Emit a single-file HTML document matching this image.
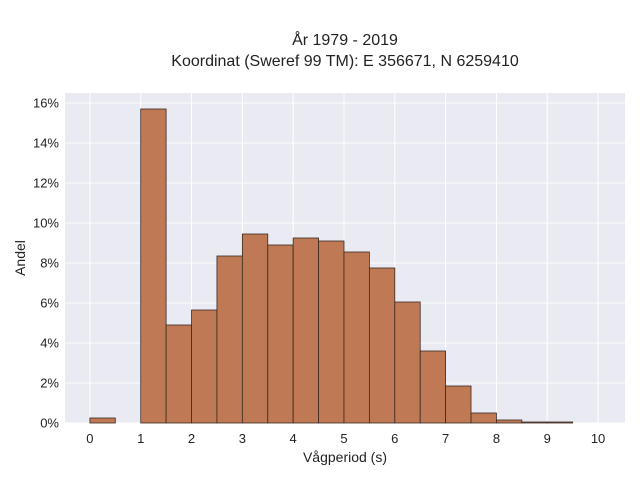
<!DOCTYPE html>
<html><head><meta charset="utf-8">
<style>
body{margin:0;background:#fff;}
svg text{font-family:"Liberation Sans",sans-serif;fill:#222;}
</style></head>
<body>
<svg id="chart" width="640" height="480" xmlns="http://www.w3.org/2000/svg">
<text x="345" y="45" text-anchor="middle" font-size="16">År 1979 - 2019</text>
<text x="345" y="66" text-anchor="middle" font-size="16">Koordinat (Sweref 99 TM): E 356671, N 6259410</text>
<rect x="65" y="93" width="560" height="330" fill="#eaeaf2"/>
<g id="grid"></g>
<g id="bars"></g>
<g id="ticks"></g>
<text x="345" y="462" text-anchor="middle" font-size="14">Vågperiod (s)</text>
<text x="25" y="258" text-anchor="middle" font-size="14" transform="rotate(-90 25 258)">Andel</text>
</svg>
<script>
const binStarts=[0,0.5,1,1.5,2,2.5,3,3.5,4,4.5,5,5.5,6,6.5,7,7.5,8,8.5,9,9.5];
const shares=[0.25,0,15.7,4.9,5.65,8.35,9.45,8.9,9.25,9.1,8.55,7.75,6.05,3.6,1.85,0.5,0.15,0.05,0.05,0];
const xTicks=[0,1,2,3,4,5,6,7,8,9,10];
const yTicks=[0,2,4,6,8,10,12,14,16];
const binWidth=0.5;
const NS="http://www.w3.org/2000/svg";
const L=65,R=625,T=93,B=423,xmin=-0.49,xmax=10.53,ymax=16.5;
const X=v=>L+(v-xmin)/(xmax-xmin)*(R-L);
const Y=v=>B-v/ymax*(B-T);
const grid=document.getElementById('grid'),bars=document.getElementById('bars'),ticks=document.getElementById('ticks');
function mk(tag,attrs,parent){const e=document.createElementNS(NS,tag);for(const k in attrs)e.setAttribute(k,attrs[k]);parent.appendChild(e);return e;}
xTicks.forEach(t=>{
 const g=mk('line',{x1:X(t),x2:X(t),y1:T,y2:B,stroke:'#fff','stroke-width':1},grid);
 
 
 const tx=mk('text',{x:X(t),y:B+20,'text-anchor':'middle','font-size':13},ticks);
 tx.textContent=t;
 
 
});
yTicks.forEach(t=>{
 const g=mk('line',{x1:L,x2:R,y1:Y(t),y2:Y(t),stroke:'#fff','stroke-width':1},grid);
 
 
 const tx=mk('text',{x:L-6,y:Y(t)+4.5,'text-anchor':'end','font-size':13},ticks);
 tx.textContent=t+'%';
 
 
});
binStarts.forEach((s,i)=>{
 if(shares[i]<=0)return;
 const r=mk('rect',{x:X(s),y:Y(shares[i]),width:X(s+binWidth)-X(s),height:B-Y(shares[i]),fill:'#bf7a55',stroke:'#3a2a22','stroke-width':0.8},bars);
 
 
});
</script>
</body></html>
